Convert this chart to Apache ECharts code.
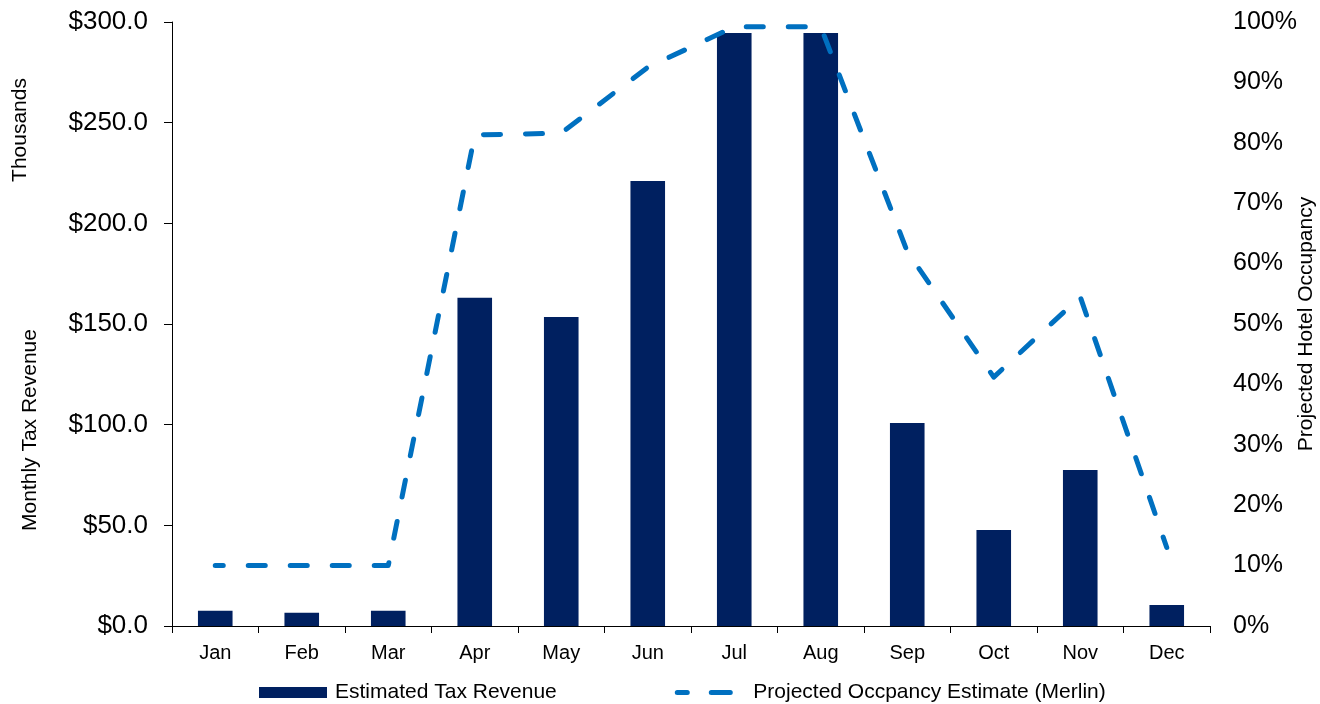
<!DOCTYPE html>
<html>
<head>
<meta charset="utf-8">
<title>Monthly Tax Revenue and Projected Hotel Occupancy</title>
<script src="https://cdn.jsdelivr.net/npm/echarts@6/dist/echarts.min.js"></script>
<style>
  html, body { margin: 0; padding: 0; background: #ffffff; }
  #chart { width: 1320px; height: 704px; }
</style>
</head>
<body>
<div id="chart"></div>
<script>
// Months along the category axis
const months = ['Jan', 'Feb', 'Mar', 'Apr', 'May', 'Jun', 'Jul', 'Aug', 'Sep', 'Oct', 'Nov', 'Dec'];

// Estimated tax revenue per month, in thousands of dollars
const taxRevenue = [7.6, 6.6, 7.6, 163.0, 153.5, 221.0, 294.5, 294.5, 100.8, 47.7, 77.5, 10.4];

// Projected hotel occupancy per month, in percent
const occupancy = [10, 10, 10, 81.3, 81.6, 92.5, 99.2, 99.2, 62, 41.2, 54.5, 13];

// Axis ranges and tick steps
const revenueAxis = { min: 0, max: 300, interval: 50 };
const occupancyAxis = { min: 0, max: 100, interval: 10 };

const FONT = '"Liberation Sans", Arial, sans-serif';
const NAVY = '#002060';
const BLUE = '#0070C0';

const chart = echarts.init(document.getElementById('chart'), null, { renderer: 'canvas' });

chart.setOption({
  backgroundColor: '#ffffff',
  animation: false,
  textStyle: { fontFamily: FONT, color: '#000000' },
  grid: { left: 172, right: 110, top: 22, bottom: 78, containLabel: false, outerBoundsMode: 'none' },
  legend: {
    left: 259,
    top: 682,
    padding: 0,
    itemWidth: 68,
    itemHeight: 11,
    itemGap: 118,
    textStyle: { fontFamily: FONT, fontSize: 21, color: '#000000', padding: [0, 0, 0, 3] },
    data: [
      { name: 'Estimated Tax Revenue', icon: 'rect' },
      {
        name: 'Projected Occpancy Estimate (Merlin)',
        lineStyle: { type: [19, 24], width: 5, cap: 'round' },
        itemStyle: { opacity: 0 }
      }
    ]
  },
  xAxis: {
    type: 'category',
    data: months,
    boundaryGap: true,
    axisLine: { show: true, lineStyle: { color: '#000000', width: 1 } },
    axisTick: { show: true, alignWithLabel: false, length: 7, inside: false, lineStyle: { color: '#000000' } },
    axisLabel: { fontFamily: FONT, fontSize: 20, color: '#000000', margin: 17 },
    splitLine: { show: false }
  },
  yAxis: [
    {
      type: 'value',
      position: 'left',
      min: revenueAxis.min,
      max: revenueAxis.max,
      interval: revenueAxis.interval,
      axisLine: { show: true, lineStyle: { color: '#000000', width: 1 } },
      axisTick: { show: true, length: 8, lineStyle: { color: '#000000' } },
      axisLabel: {
        fontFamily: FONT, fontSize: 26, color: '#000000', margin: 24,
        formatter: v => '$' + v.toFixed(1)
      },
      splitLine: { show: false }
    },
    {
      type: 'value',
      position: 'right',
      min: occupancyAxis.min,
      max: occupancyAxis.max,
      interval: occupancyAxis.interval,
      name: 'Projected Hotel Occupancy',
      nameLocation: 'middle',
      nameRotate: 90,
      nameGap: 86,
      nameMoveOverlap: false,
      nameTextStyle: { fontFamily: FONT, fontSize: 21, color: '#000000' },
      axisLine: { show: false },
      axisTick: { show: false },
      axisLabel: {
        fontFamily: FONT, fontSize: 25, color: '#000000', margin: 23,
        formatter: v => v + '%'
      },
      splitLine: { show: false }
    }
  ],
  graphic: [
    {
      type: 'text',
      x: 20, y: 130,
      rotation: Math.PI / 2,
      style: {
        text: 'Thousands',
        font: '21px ' + FONT,
        fill: '#000000',
        textAlign: 'center',
        textVerticalAlign: 'middle'
      }
    },
    {
      type: 'text',
      x: 30, y: 430,
      rotation: Math.PI / 2,
      style: {
        text: 'Monthly Tax Revenue',
        font: '21px ' + FONT,
        fill: '#000000',
        textAlign: 'center',
        textVerticalAlign: 'middle'
      }
    }
  ],
  series: [
    {
      name: 'Estimated Tax Revenue',
      type: 'bar',
      yAxisIndex: 0,
      data: taxRevenue,
      barWidth: '40%',
      itemStyle: { color: NAVY }
    },
    {
      name: 'Projected Occpancy Estimate (Merlin)',
      type: 'line',
      yAxisIndex: 1,
      data: occupancy,
      symbol: 'none',
      smooth: false,
      lineStyle: { color: BLUE, width: 5, type: [17, 25], dashOffset: 9, cap: 'round', join: 'round' },
      itemStyle: { color: BLUE }
    }
  ]
});
</script>
</body>
</html>
